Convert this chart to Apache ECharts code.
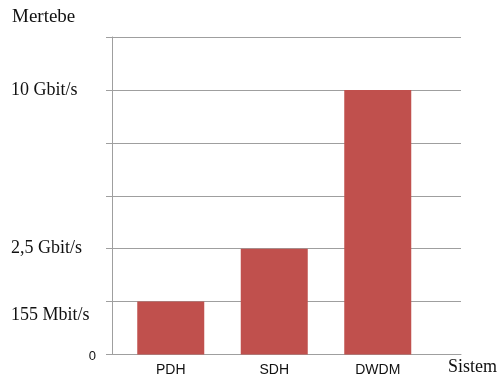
<!DOCTYPE html>
<html>
<head>
<meta charset="utf-8">
<script src="https://cdn.jsdelivr.net/npm/echarts@6/dist/echarts.min.js"></script>
<style>html,body{margin:0;padding:0;background:#fff;}#c{width:499px;height:381px;}</style>
</head>
<body>
<div id="c"></div>
<script>
const categories = ['PDH', 'SDH', 'DWDM'];
const levels = [1, 2, 5];
const tickLabels = ['0', '155 Mbit/s', '2,5 Gbit/s', '', '', '10 Gbit/s', ''];
const yTitle = 'Mertebe';
const xTitle = 'Sistem';

const chart = echarts.init(document.getElementById('c'));
const serif = '"Liberation Serif", "DejaVu Serif", serif';
const sans = '"Liberation Sans", Arial, sans-serif';
const gridCol = '#9f9f9f';

chart.setOption({
  animation: false,
  backgroundColor: '#ffffff',
  title: [
    { text: yTitle, left: 7, top: 3, textStyle: { fontFamily: serif, fontSize: 19, fontWeight: 'normal', color: '#111' } },
    { text: xTitle, left: 443, top: 353, textStyle: { fontFamily: serif, fontSize: 18, fontWeight: 'normal', color: '#111' } }
  ],
  grid: [
    { left: 112, right: 38, top: 37, bottom: 26.5 },
    { left: 119, width: 310.5, top: 37, bottom: 26.5 }
  ],
  xAxis: [
    { type: 'category', gridIndex: 0, data: categories, show: true,
      axisLine: { show: true, lineStyle: { color: gridCol } }, axisTick: { show: false }, axisLabel: { show: false } },
    { type: 'category', gridIndex: 1, data: categories,
      axisLine: { show: false }, axisTick: { show: false },
      axisLabel: { fontFamily: sans, fontSize: 14, color: '#111', margin: 9 } }
  ],
  yAxis: [
    { type: 'value', gridIndex: 0, min: 0, max: 6, interval: 1,
      axisLine: { show: true, lineStyle: { color: gridCol } },
      axisTick: { show: true, length: 6, lineStyle: { color: gridCol } },
      splitLine: { show: true, lineStyle: { color: gridCol, width: 1 } },
      axisLabel: {
        align: 'left', margin: 101, fontFamily: serif, fontSize: 18, color: '#111',
        formatter: function (v) {
          if (v === 0) return '';
          if (v === 1) return '{low|' + tickLabels[v] + '}';
          return tickLabels[v] || '';
        },
        rich: { low: { fontFamily: serif, fontSize: 18, color: '#111', padding: [28, 0, 0, 0] } }
      } },
    { type: 'value', gridIndex: 0, min: 0, max: 6, interval: 1, position: 'left',
      axisLine: { show: false }, axisTick: { show: false }, splitLine: { show: false },
      axisLabel: { align: 'right', margin: 16, fontFamily: sans, fontSize: 13, color: '#111',
        formatter: function (v) { return v === 0 ? '{z|' + tickLabels[0] + '}' : ''; },
        rich: { z: { fontFamily: sans, fontSize: 13, color: '#111', padding: [4, 0, 0, 0] } } } },
    { type: 'value', gridIndex: 1, min: 0, max: 6, interval: 1, show: false }
  ],
  series: [{
    type: 'bar', xAxisIndex: 1, yAxisIndex: 2,
    data: levels, barWidth: 67,
    itemStyle: { color: '#c0504d' }
  }]
});
</script>
</body>
</html>
